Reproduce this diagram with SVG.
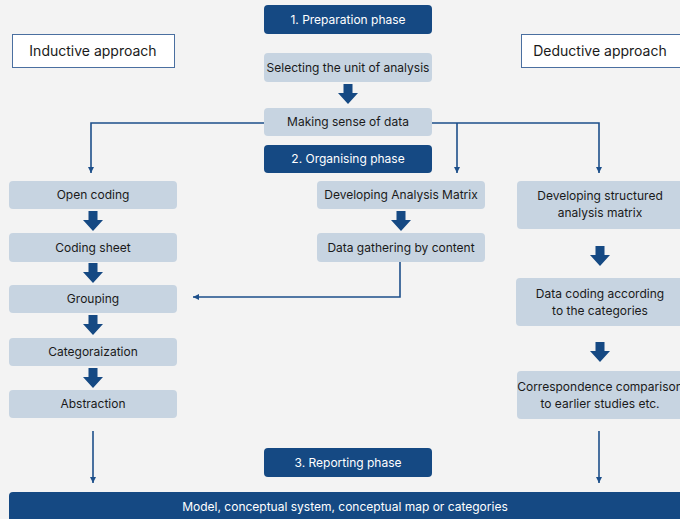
<svg xmlns="http://www.w3.org/2000/svg" width="680" height="519" viewBox="0 0 680 519">
  <style>
    .phase { fill: #154983; }
    .step { fill: #c7d4e1; }
    .approach { fill: #ffffff; stroke: #4a6fa0; stroke-width: 1; }
    .t { font-family: Inter, "Noto Sans", "Liberation Sans", sans-serif; font-size: 12px; fill: #1a1a1a; text-anchor: middle; }
    .tw { font-family: Inter, "Noto Sans", "Liberation Sans", sans-serif; font-size: 12px; fill: #ffffff; text-anchor: middle; }
    .ta { font-family: Inter, "Noto Sans", "Liberation Sans", sans-serif; font-size: 14px; fill: #1a1a1a; text-anchor: middle; }
    .wire { fill: none; stroke: #1d4f8a; stroke-width: 1.6; }
    .big { fill: #154983; }
  </style>
  <defs>
    <marker id="tip" viewBox="0 0 10 10" refX="10" refY="5" markerWidth="4" markerHeight="4" orient="auto">
      <path d="M0,0 L10,5 L0,10 z" fill="#1d4f8a"/>
    </marker>
    <path id="fat" d="M-4.5,0 H4.5 V9 H10 L0,20 L-10,9 H-4.5 z"/>
  </defs>
  <rect width="680" height="519" fill="#f3f3f3"/>

  <!-- connectors -->
  <g id="connectors">
    <path class="wire" d="M264,123 H91 V173" marker-end="url(#tip)"/>
    <path class="wire" d="M432,123 H599 V173" marker-end="url(#tip)"/>
    <path class="wire" d="M457,123 V173" marker-end="url(#tip)"/>
    <path class="wire" d="M400,262 V297 H193" marker-end="url(#tip)"/>
    <path class="wire" d="M93,431 V483" marker-end="url(#tip)"/>
    <path class="wire" d="M599,431 V483" marker-end="url(#tip)"/>
    <use href="#fat" class="big" x="348" y="84"/>
    <use href="#fat" class="big" x="93" y="211"/>
    <use href="#fat" class="big" x="93" y="263"/>
    <use href="#fat" class="big" x="93" y="315"/>
    <use href="#fat" class="big" x="93" y="368"/>
    <use href="#fat" class="big" x="401" y="211"/>
    <use href="#fat" class="big" x="600" y="246"/>
    <use href="#fat" class="big" x="600" y="342"/>
  </g>

  <!-- approach labels -->
  <g id="inductive">
    <rect class="approach" x="12.5" y="34.5" width="162" height="33"/>
    <text class="ta" x="93" y="56">Inductive approach</text>
  </g>
  <g id="deductive">
    <rect class="approach" x="521.5" y="34.5" width="170" height="33"/>
    <text class="ta" x="600" y="56">Deductive approach</text>
  </g>

  <!-- phases -->
  <g id="phase1">
    <rect class="phase" x="264" y="5" width="168" height="29" rx="4"/>
    <text class="tw" x="348" y="24">1. Preparation phase</text>
  </g>
  <g id="phase2">
    <rect class="phase" x="264" y="145" width="168" height="28" rx="4"/>
    <text class="tw" x="348" y="163">2. Organising phase</text>
  </g>
  <g id="phase3">
    <rect class="phase" x="264" y="448" width="168" height="29" rx="4"/>
    <text class="tw" x="348" y="467">3. Reporting phase</text>
  </g>

  <!-- preparation -->
  <g id="unit">
    <rect class="step" x="264" y="53" width="168" height="29" rx="4"/>
    <text class="t" x="348" y="72">Selecting the unit of analysis</text>
  </g>
  <g id="sense">
    <rect class="step" x="264" y="108" width="168" height="28" rx="4"/>
    <text class="t" x="348" y="126">Making sense of data</text>
  </g>

  <!-- inductive column -->
  <g id="open-coding">
    <rect class="step" x="9" y="181" width="168" height="28" rx="4"/>
    <text class="t" x="93" y="199">Open coding</text>
  </g>
  <g id="coding-sheet">
    <rect class="step" x="9" y="233" width="168" height="29" rx="4"/>
    <text class="t" x="93" y="252">Coding sheet</text>
  </g>
  <g id="grouping">
    <rect class="step" x="9" y="285" width="168" height="28" rx="4"/>
    <text class="t" x="93" y="303">Grouping</text>
  </g>
  <g id="categorization">
    <rect class="step" x="9" y="338" width="168" height="28" rx="4"/>
    <text class="t" x="93" y="356">Categoraization</text>
  </g>
  <g id="abstraction">
    <rect class="step" x="9" y="390" width="168" height="28" rx="4"/>
    <text class="t" x="93" y="408">Abstraction</text>
  </g>

  <!-- middle column -->
  <g id="analysis-matrix">
    <rect class="step" x="317" y="181" width="168" height="28" rx="4"/>
    <text class="t" x="401" y="199">Developing Analysis Matrix</text>
  </g>
  <g id="gathering">
    <rect class="step" x="317" y="233" width="168" height="29" rx="4"/>
    <text class="t" x="401" y="252">Data gathering by content</text>
  </g>

  <!-- deductive column -->
  <g id="structured-matrix">
    <rect class="step" x="517" y="181" width="170" height="48" rx="4"/>
    <text class="t" x="600" y="200">Developing structured</text>
    <text class="t" x="600" y="217">analysis matrix</text>
  </g>
  <g id="data-coding">
    <rect class="step" x="516" y="278" width="170" height="48" rx="4"/>
    <text class="t" x="600" y="298">Data coding according</text>
    <text class="t" x="600" y="315">to the categories</text>
  </g>
  <g id="comparison">
    <rect class="step" x="517" y="371" width="170" height="48" rx="4"/>
    <text class="t" x="600" y="391">Correspondence comparison</text>
    <text class="t" x="600" y="408">to earlier studies etc.</text>
  </g>

  <!-- result -->
  <g id="result">
    <rect class="phase" x="9" y="492" width="680" height="35" rx="4"/>
    <text class="tw" x="345" y="511">Model, conceptual system, conceptual map or categories</text>
  </g>
</svg>
